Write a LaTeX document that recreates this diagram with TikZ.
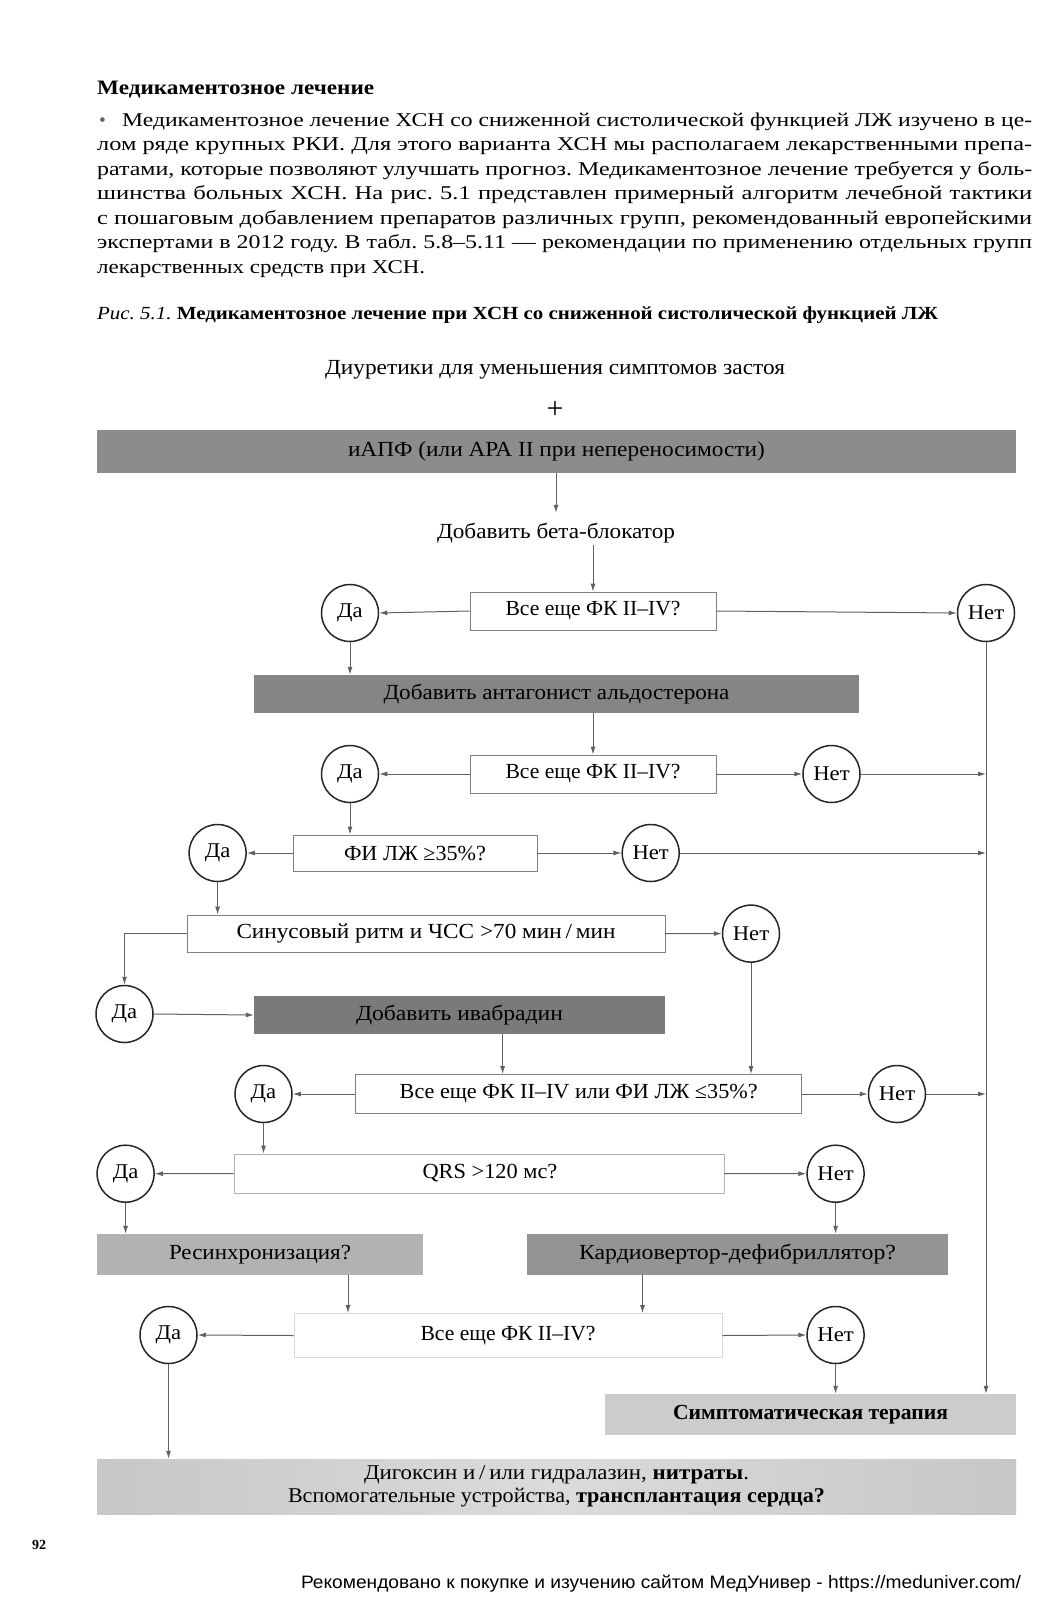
\documentclass[tikz,border=0pt]{standalone}
\usepackage{fontspec}
\setmainfont{Liberation Serif}
\newfontfamily\wmfont{Liberation Sans}
\usepackage{graphicx}
\usetikzlibrary{arrows.meta,calc}
\frenchspacing
\newlength\fitwd
\newcommand\fitto[2]{\settowidth\fitwd{#2}\pgfmathsetmacro\fitr{#1/\fitwd}\scalebox{\fitr}[1]{#2}}
\newcommand\jfit[2]{\settowidth\fitwd{#2}\pgfmathsetmacro\fitr{min(1.26,#1/\fitwd)}\pgfmathsetlengthmacro\fitw{#1/\fitr}\scalebox{\fitr}[1]{\hbox to \fitw{#2}}}
\newcommand\yl[1]{\scalebox{1.08}[1]{#1}}
\begin{document}
\frenchspacing
\begin{tikzpicture}[x=1pt,y=-1pt,
  dia/.style={inner sep=2pt,font=\fontsize{21.5}{24}\selectfont},
  txt/.style={anchor=base west,inner sep=0pt,font=\fontsize{19.5}{22}\selectfont},
  qbox/.style={draw=black!50,line width=0.8pt,fill=white,inner sep=0pt,font=\fontsize{21.5}{24}\selectfont},
  bar/.style={draw=none,inner sep=0pt,font=\fontsize{21.5}{24}\selectfont},
  yn/.style={circle,draw=black!85,line width=1.5pt,minimum size=57pt,inner sep=0pt,fill=white,font=\fontsize{21}{24}\selectfont},
  arr/.style={draw=black!62,line width=1pt,-{Latex[length=8pt,width=5pt]}}]
\fill[white] (0,0) rectangle (1046,1601);
\useasboundingbox (0,0) rectangle (1046,1601);

% ---- text above the figure
\node[txt,font=\bfseries\fontsize{20.5}{22}\selectfont] (head) at (97,94) {\fitto{277}{Медикаментозное лечение}};
\node[txt,text=black!60] (bul) at (99,126) {•};
\node[txt] (p1) at (122,126) {\jfit{910}{Медикаментозное лечение ХСН со сниженной систолической функцией ЛЖ изучено в це-}};
\node[txt] (p2) at (97,150.5) {\jfit{935}{лом ряде крупных РКИ. Для этого варианта ХСН мы располагаем лекарственными препа-}};
\node[txt] (p3) at (97,175) {\jfit{935}{ратами, которые позволяют улучшать прогноз. Медикаментозное лечение требуется у боль-}};
\node[txt] (p4) at (97,199.5) {\jfit{935}{шинства больных ХСН. На рис. 5.1 представлен примерный алгоритм лечебной тактики}};
\node[txt] (p5) at (97,224) {\jfit{935}{с пошаговым добавлением препаратов различных групп, рекомендованный европейскими}};
\node[txt] (p6) at (97,248.5) {\jfit{935}{экспертами в 2012 году. В табл. 5.8–5.11 — рекомендации по применению отдельных групп}};
\node[txt] (p7) at (97,273) {\fitto{328}{лекарственных средств при ХСН.}};
\node[txt,font=\fontsize{18.5}{20}\selectfont] (cap) at (97,319) {\fitto{841}{\textit{Рис. 5.1.} \textbf{Медикаментозное лечение при ХСН со сниженной систолической функцией ЛЖ}}};

% ---- diagram nodes
\node[dia] (diur) at (555,370) {\fitto{460}{Диуретики для уменьшения симптомов застоя}};
\node[font=\fontsize{30}{32}\selectfont,inner sep=0pt] (plus) at (555,410) {+};
\node[bar,fill=black!45,minimum width=919pt,minimum height=43pt] (acei) at (556.5,451.5) {\fitto{417}{иАПФ (или АРА II при непереносимости)}};
\node[dia] (bb) at (556,533) {\fitto{238}{Добавить бета-блокатор}};

\node[qbox,minimum width=246pt,minimum height=38pt] (box1) at (593,611) {\fitto{175}{Все еще ФК II–IV?}};
\node[yn] (da1) at (350,613) {\yl{Да}};
\node[yn] (net1) at (986,613) {\yl{Нет}};

\node[bar,fill=black!48,minimum width=605pt,minimum height=38pt] (bar2) at (556.5,694) {\fitto{346}{Добавить антагонист альдостерона}};

\node[qbox,minimum width=246pt,minimum height=38pt] (box2) at (593,774) {\fitto{175}{Все еще ФК II–IV?}};
\node[yn] (da2) at (350,774) {\yl{Да}};
\node[yn] (net2) at (831.5,774) {\yl{Нет}};

\node[qbox,minimum width=244pt,minimum height=36pt] (box3) at (415,853) {\fitto{142}{ФИ ЛЖ ≥35\%?}};
\node[yn] (da3) at (217.6,853) {\yl{Да}};
\node[yn] (net3) at (650.7,853) {\yl{Нет}};

\node[qbox,minimum width=478pt,minimum height=37pt] (box4) at (426,933.5) {\fitto{379}{Синусовый ритм и ЧСС >70 мин\,/\,мин}};
\node[yn] (net4) at (751,933.6) {\yl{Нет}};

\node[yn] (da5) at (124.5,1014) {\yl{Да}};
\node[bar,fill=black!52,minimum width=411pt,minimum height=38pt] (ivab) at (459.5,1015) {\fitto{207}{Добавить ивабрадин}};

\node[qbox,minimum width=446pt,minimum height=39pt] (box5) at (578.7,1094) {\fitto{358}{Все еще ФК II–IV или ФИ ЛЖ ≤35\%?}};
\node[yn] (da6) at (263.5,1094) {\yl{Да}};
\node[yn] (net5) at (897,1094) {\yl{Нет}};

\node[qbox,draw=black!30,minimum width=490pt,minimum height=39pt] (box6) at (479,1173.5) {\hspace*{22pt}\scalebox{1.04}[1]{QRS >120 мс?}};
\node[yn] (da7) at (125.6,1173.7) {\yl{Да}};
\node[yn] (net6) at (835.6,1173.7) {\yl{Нет}};

\node[bar,fill=black!30,minimum width=326pt,minimum height=41pt] (resync) at (260,1254.5) {\fitto{182}{Ресинхронизация?}};
\node[bar,fill=black!42,minimum width=421pt,minimum height=41pt] (kardio) at (737.5,1254.5) {\fitto{317}{Кардиовертор-дефибриллятор?}};

\node[qbox,draw=black!15,minimum width=428pt,minimum height=44pt] (box7) at (508,1335.5) {\fitto{175}{Все еще ФК II–IV?}};
\node[yn] (da8) at (168.5,1335) {\yl{Да}};
\node[yn] (net7) at (835.6,1335) {\yl{Нет}};

\node[bar,fill=black!20,minimum width=411pt,minimum height=41pt] (simp) at (810.5,1414.5) {\fitto{275}{\textbf{Симптоматическая терапия}}};

\node[bar,left color=black!22,right color=black!22,middle color=black!14,minimum width=919pt,minimum height=55pt,align=center,font=\fontsize{21}{23.5}\selectfont] (last) at (556.5,1486.5)
  {\fitto{385}{Дигоксин и\,/\,или гидралазин, \textbf{нитраты}.}\\\fitto{537}{Вспомогательные устройства, \textbf{трансплантация сердца?}}};

\node[inner sep=0pt,font=\bfseries\fontsize{14}{16}\selectfont] (pg) at (39,1545) {92};
\node[inner sep=0pt,font=\wmfont\fontsize{18}{20}\selectfont] (wm) at (661,1584) {\fitto{720}{Рекомендовано к покупке и изучению сайтом МедУнивер - https://meduniver.com/}};

% ---- connectors
\coordinate (c5) at (502.6,1050);
\coordinate (c7a) at (348,1290);
\coordinate (c7b) at (642.5,1290);
\draw[arr,shorten >=8pt] (acei.south -| bb) -- (bb.north);
\draw[arr] (bb.south -| box1) -- (box1.north);
\draw[arr] (box1.west) -- (da1.east);
\draw[arr] (box1.east) -- (net1.west);
\draw[arr] (da1.south) -- (bar2.north -| da1);
\draw[arr] (bar2.south -| box2) -- (box2.north);
\draw[arr] (box2.west) -- (da2.east);
\draw[arr] (box2.east) -- (net2.west);
\draw[arr] (net2.east) -- (net2 -| net1);
\draw[arr] (da2.south) -- (box3.north -| da2);
\draw[arr] (box3.west) -- (da3.east);
\draw[arr] (box3.east) -- (net3.west);
\draw[arr] (net3.east) -- (net3 -| net1);
\draw[arr] (da3.south) -- (box4.north -| da3);
\draw[arr] (box4.east) -- (net4.west);
\draw[arr] (box4.west) -| (da5.north);
\draw[arr] (da5.east) -- (ivab.west);
\draw[arr] (ivab.south -| c5) -- (box5.north -| c5);
\draw[arr] (net4.south) -- (box5.north -| net4);
\draw[arr] (box5.west) -- (da6.east);
\draw[arr] (box5.east) -- (net5.west);
\draw[arr] (net5.east) -- (net5 -| net1);
\draw[arr] (da6.south) -- (box6.north -| da6);
\draw[arr] (box6.west) -- (da7.east);
\draw[arr] (box6.east) -- (net6.west);
\draw[arr] (da7.south) -- (resync.north -| da7);
\draw[arr] (net6.south) -- (kardio.north -| net6);
\draw[arr] (resync.south -| c7a) -- (box7.north -| c7a);
\draw[arr] (kardio.south -| c7b) -- (box7.north -| c7b);
\draw[arr] (box7.west) -- (da8.east);
\draw[arr] (box7.east) -- (net7.west);
\draw[arr] (net7.south) -- (simp.north -| net7);
\draw[arr] (net1.south) -- (simp.north -| net1);
\draw[arr] (da8.south) -- (last.north -| da8);
\end{tikzpicture}
\end{document}
